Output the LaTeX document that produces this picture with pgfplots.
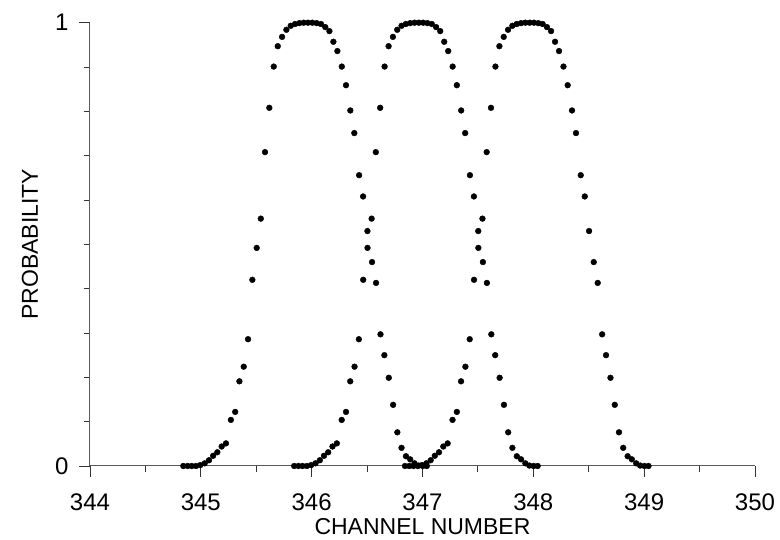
\documentclass[border=0pt]{standalone}
\usepackage{pgfplots}
\pgfplotsset{compat=1.18}
\usepackage{fontspec}
\setmainfont{Liberation Sans}
\pgfplotstableread{
x y
344.842 0
344.881 0
344.918 0
344.957 0
344.995 0.002
345.035 0.006
345.074 0.013
345.111 0.023
345.149 0.031
345.188 0.044
345.227 0.051
345.271 0.104
345.310 0.122
345.348 0.191
345.387 0.224
345.426 0.286
345.465 0.420
345.504 0.492
345.541 0.558
345.579 0.708
345.618 0.808
345.658 0.901
345.694 0.947
345.733 0.968
345.772 0.984
345.811 0.993
345.850 0.997
345.889 0.999
345.928 1.000
345.967 1.000
346.006 1.000
346.045 0.999
346.084 0.997
346.123 0.990
346.160 0.981
346.196 0.957
346.232 0.936
346.272 0.901
346.310 0.859
346.349 0.802
346.385 0.751
346.428 0.656
346.464 0.608
346.503 0.530
346.545 0.460
346.581 0.413
346.621 0.297
346.656 0.250
346.696 0.199
346.735 0.138
346.773 0.076
346.811 0.041
346.851 0.022
346.889 0.015
346.928 0.006
346.964 0.001
347.003 0
347.039 0
}\chA
\pgfplotstableread{
x y
345.842 0
345.881 0
345.918 0
345.957 0
345.995 0.002
346.035 0.006
346.074 0.013
346.111 0.023
346.149 0.031
346.188 0.044
346.227 0.051
346.271 0.104
346.310 0.122
346.348 0.191
346.387 0.224
346.426 0.286
346.465 0.420
346.504 0.492
346.541 0.558
346.579 0.708
346.618 0.808
346.658 0.901
346.694 0.947
346.733 0.968
346.772 0.984
346.811 0.993
346.850 0.997
346.889 0.999
346.928 1.000
346.967 1.000
347.006 1.000
347.045 0.999
347.084 0.997
347.123 0.990
347.160 0.981
347.196 0.957
347.232 0.936
347.272 0.901
347.310 0.859
347.349 0.802
347.385 0.751
347.428 0.656
347.464 0.608
347.503 0.530
347.545 0.460
347.581 0.413
347.621 0.297
347.656 0.250
347.696 0.199
347.735 0.138
347.773 0.076
347.811 0.041
347.851 0.022
347.889 0.015
347.928 0.006
347.964 0.001
348.003 0
348.039 0
}\chB
\pgfplotstableread{
x y
346.842 0
346.881 0
346.918 0
346.957 0
346.995 0.002
347.035 0.006
347.074 0.013
347.111 0.023
347.149 0.031
347.188 0.044
347.227 0.051
347.271 0.104
347.310 0.122
347.348 0.191
347.387 0.224
347.426 0.286
347.465 0.420
347.504 0.492
347.541 0.558
347.579 0.708
347.618 0.808
347.658 0.901
347.694 0.947
347.733 0.968
347.772 0.984
347.811 0.993
347.850 0.997
347.889 0.999
347.928 1.000
347.967 1.000
348.006 1.000
348.045 0.999
348.084 0.997
348.123 0.990
348.160 0.981
348.196 0.957
348.232 0.936
348.272 0.901
348.310 0.859
348.349 0.802
348.385 0.751
348.428 0.656
348.464 0.608
348.503 0.530
348.545 0.460
348.581 0.413
348.621 0.297
348.656 0.250
348.696 0.199
348.735 0.138
348.773 0.076
348.811 0.041
348.851 0.022
348.889 0.015
348.928 0.006
348.964 0.001
349.003 0
349.039 0
}\chC
\begin{document}
\begin{tikzpicture}
\path[use as bounding box] (-90pt,-74pt) rectangle (690pt,466pt);
\begin{axis}[
  at={(0pt,0pt)}, anchor=south west,
  scale only axis, width=665pt, height=443.3pt,
  xmin=344, xmax=350, ymin=0, ymax=1,
  axis x line=bottom, axis y line=left,
  axis line style={-, draw=black!65, line width=1pt},
  xtick={344,345,346,347,348,349,350},
  ytick={0,1},
  minor x tick num=1, minor y tick num=9,
  tick align=outside,
  major tick length=11pt, minor tick length=6pt,
  every tick/.style={black!80, line width=0.9pt},
  /pgf/number format/assume math mode=true,
  /pgf/number format/.cd, 1000 sep={}, /pgfplots/.cd,
  ticklabel style={font=\fontsize{24}{28}\selectfont},
  xticklabel style={anchor=center, yshift=-25pt, inner sep=0pt},
  yticklabel style={anchor=east, xshift=-7pt},
  label style={font=\fontsize{23}{27}\selectfont},
  xlabel={CHANNEL NUMBER},
  ylabel={PROBABILITY},
  xlabel style={at={(axis description cs:0.5,-0.137)}, anchor=center, inner sep=0pt},
  ylabel style={at={(axis description cs:-0.0902,0.5)}, anchor=center},
  clip=false,
]
\addplot[only marks, mark=*, mark size=2.9pt, black] table {\chA};
\addplot[only marks, mark=*, mark size=2.9pt, black] table {\chB};
\addplot[only marks, mark=*, mark size=2.9pt, black] table {\chC};
\end{axis}
\end{tikzpicture}
\end{document}
